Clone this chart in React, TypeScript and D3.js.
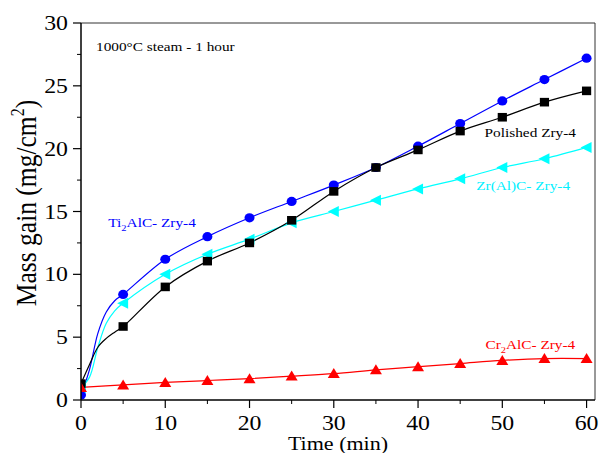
import React from 'react';
import * as d3 from 'd3';

const width = 600;
const height = 453;
const margin = { left: 81, top: 23, right: 5, bottom: 53 };
const plotW = width - margin.left - margin.right;
const plotH = height - margin.top - margin.bottom;
const sx = 1.16; // horizontal stretch of the text in the original figure

// marker times (min)
const times = [0, 5, 10, 15, 20, 25, 30, 35, 40, 45, 50, 55, 60];
const ti2alc = [0.4, 8.4, 11.2, 13.0, 14.5, 15.8, 17.1, 18.5, 20.2, 22.0, 23.8, 25.5, 27.2];
const polished = [1.3, 5.85, 9.0, 11.05, 12.5, 14.3, 16.6, 18.5, 19.9, 21.4, 22.5, 23.7, 24.6];
const zralc = [1.0, 7.7, 10.0, 11.6, 12.8, 14.1, 15.0, 15.9, 16.8, 17.6, 18.5, 19.2, 20.1];
const cr2alc = [1.0, 1.2, 1.4, 1.55, 1.7, 1.9, 2.1, 2.4, 2.65, 2.9, 3.15, 3.3, 3.3];

// unmarked points of the curves in the first minutes
const earlyTimes = [1, 2, 3, 4];
const ti2alcEarly = [2.4, 5.3, 7.0, 7.9];
const polishedEarly = [2.8, 4.2, 4.9, 5.4];
const zralcEarly = [1.8, 4.2, 6.1, 7.1];
const cr2alcEarly: number[] = [];

const xTicks = [0, 10, 20, 30, 40, 50, 60];
const xMinor = [5, 15, 25, 35, 45, 55];
const yTicks = [0, 5, 10, 15, 20, 25, 30];
const yMinor = [2.5, 7.5, 12.5, 17.5, 22.5, 27.5];

const x = d3.scaleLinear().domain([0, 61]).range([0, plotW]);
const y = d3.scaleLinear().domain([0, 30]).range([plotH, 0]);

type Pt = [number, number];

const series = [
  { name: 'ti', color: '#0000ff', vals: ti2alc, early: ti2alcEarly, shape: 'circle' },
  { name: 'zr', color: '#00ffff', vals: zralc, early: zralcEarly, shape: 'left' },
  { name: 'pol', color: '#000000', vals: polished, early: polishedEarly, shape: 'square' },
  { name: 'cr', color: '#ff0000', vals: cr2alc, early: cr2alcEarly, shape: 'up' },
];

const line = d3
  .line<Pt>()
  .x((d) => x(d[0]))
  .y((d) => y(d[1]))
  .curve(d3.curveCatmullRom.alpha(0.5));

const linePoints = (vals: number[], early: number[]): Pt[] => {
  const pts: Pt[] = times.map((t, i) => [t, vals[i]]);
  early.forEach((v, i) => pts.push([earlyTimes[i], v]));
  return pts.sort((a, b) => a[0] - b[0]);
};

const Marker = ({ shape, cx, cy, color }: { shape: string; cx: number; cy: number; color: string }) => {
  if (shape === 'circle') return <ellipse cx={cx} cy={cy} rx={5} ry={4.6} fill={color} />;
  if (shape === 'square') return <rect x={cx - 4.6} y={cy - 4.3} width={9.2} height={8.6} fill={color} />;
  if (shape === 'left')
    return <path d={`M${cx - 6},${cy} L${cx + 5},${cy - 5.5} L${cx + 5},${cy + 5.5} Z`} fill={color} />;
  return <path d={`M${cx},${cy - 5.5} L${cx + 6},${cy + 4.5} L${cx - 6},${cy + 4.5} Z`} fill={color} />;
};

// text stretched horizontally like the source figure
const SText = ({ x: tx, y: ty, children, ...rest }: any) => (
  <text transform={`translate(${tx},${ty}) scale(${sx},1)`} {...rest}>
    {children}
  </text>
);

const font = '"Liberation Serif", "Times New Roman", serif';

const App = () => {
  return (
    <svg width={width} height={height} style={{ position: 'absolute', left: 0, top: 0 }} fontFamily={font}>
      <rect width={width} height={height} fill="white" />
      <defs>
        <clipPath id="plot">
          <rect x={0} y={0} width={plotW} height={plotH} />
        </clipPath>
      </defs>
      <g transform={`translate(${margin.left},${margin.top})`}>
        <g clipPath="url(#plot)">
          {series.map((s) => (
            <path key={s.name} d={line(linePoints(s.vals, s.early)) || ''} fill="none" stroke={s.color} strokeWidth={1.2} />
          ))}
          {series.map((s) =>
            times.map((t, i) => (
              <Marker key={s.name + t} shape={s.shape} cx={x(t)} cy={y(s.vals[i])} color={s.color} />
            ))
          )}
        </g>

        {/* frame */}
        <line x1={0} x2={plotW} y1={0} y2={0} stroke="#333" strokeWidth={1} />
        <line x1={plotW} x2={plotW} y1={0} y2={plotH} stroke="#333" strokeWidth={1} />
        <line x1={0} x2={0} y1={0} y2={plotH} stroke="black" strokeWidth={1.5} />
        <line x1={0} x2={plotW} y1={plotH} y2={plotH} stroke="black" strokeWidth={1.5} />

        {/* x ticks */}
        {xTicks.map((t) => (
          <g key={'x' + t}>
            <line x1={x(t)} x2={x(t)} y1={plotH} y2={plotH + 8} stroke="black" strokeWidth={1.2} />
            <SText x={x(t)} y={plotH + 30} textAnchor="middle" fontSize={20.5}>
              {t}
            </SText>
          </g>
        ))}
        {xMinor.map((t) => (
          <line key={'xm' + t} x1={x(t)} x2={x(t)} y1={plotH} y2={plotH + 4} stroke="black" strokeWidth={1} />
        ))}

        {/* y ticks */}
        {yTicks.map((t) => (
          <g key={'y' + t}>
            <line x1={0} x2={-8} y1={y(t)} y2={y(t)} stroke="black" strokeWidth={1.2} />
            <SText x={-13} y={y(t) + 7} textAnchor="end" fontSize={20.5}>
              {t}
            </SText>
          </g>
        ))}
        {yMinor.map((t) => (
          <line key={'ym' + t} x1={0} x2={-4} y1={y(t)} y2={y(t)} stroke="black" strokeWidth={1} />
        ))}

        {/* annotations */}
        <SText x={15} y={28} fontSize={13.2}>
          1000°C steam - 1 hour
        </SText>
        <SText x={x(3.24)} y={y(13.8)} fontSize={13.2} fill="#0000ff">
          Ti<tspan fontSize={9} dy={4}>2</tspan>
          <tspan dy={-4}>AlC- Zry-4</tspan>
        </SText>
        <SText x={x(47.9)} y={y(20.95)} fontSize={13.2} fill="#000">
          Polished Zry-4
        </SText>
        <SText x={x(46.9)} y={y(16.7)} fontSize={13.2} fill="#00f0ff">
          Zr(Al)C- Zry-4
        </SText>
        <SText x={x(48.0)} y={y(4.08)} fontSize={13.2} fill="#ff0000">
          Cr<tspan fontSize={9} dy={4}>2</tspan>
          <tspan dy={-4}>AlC- Zry-4</tspan>
        </SText>
      </g>

      {/* axis titles */}
      <SText x={338} y={450} textAnchor="middle" fontSize={19}>
        Time (min)
      </SText>
      <text transform={`translate(36,203) scale(${sx},1) rotate(-90)`} textAnchor="middle" fontSize={25.5}>
        Mass gain (mg/cm<tspan fontSize={16} dy={-10}>2</tspan>
        <tspan dy={10}>)</tspan>
      </text>
    </svg>
  );
};

export default App;
